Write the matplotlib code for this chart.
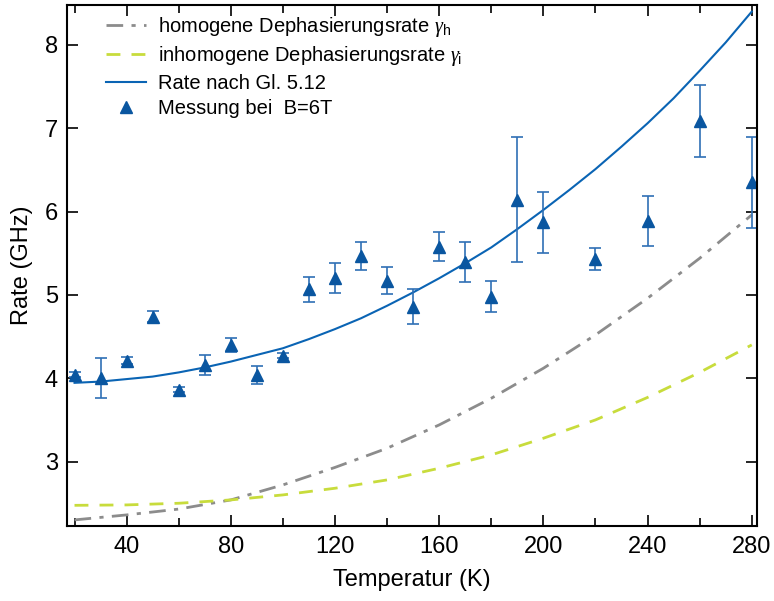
import numpy as np
import matplotlib.pyplot as plt

plt.rcParams['font.family'] = ['Liberation Sans', 'DejaVu Sans']
plt.rcParams['mathtext.fontset'] = 'custom'
plt.rcParams['mathtext.rm'] = 'Liberation Sans'
plt.rcParams['mathtext.it'] = 'Liberation Serif:italic'

# Messwerte (B = 6 T)
T_mess = [20, 30, 40, 50, 60, 70, 80, 90, 100, 110, 120, 130, 140, 150,
          160, 170, 180, 190, 200, 220, 240, 260, 280]
rate_mess = [4.04, 4.00, 4.21, 4.74, 3.86, 4.16, 4.40, 4.04, 4.27, 5.07, 5.20,
             5.47, 5.17, 4.86, 5.58, 5.39, 4.98, 6.14, 5.87, 5.43, 5.89, 7.09, 6.35]
rate_err = [0.03, 0.24, 0.04, 0.07, 0.03, 0.12, 0.08, 0.11, 0.03, 0.15, 0.18,
            0.17, 0.16, 0.21, 0.17, 0.24, 0.19, 0.75, 0.37, 0.13, 0.30, 0.43, 0.55]

# Kurven
T_fit = [20, 30, 40, 50, 60, 70, 80, 90, 100, 110, 120, 130, 140, 150, 160,
         170, 180, 190, 200, 210, 220, 230, 240, 250, 260, 270, 280]
rate_fit = [3.945, 3.96, 3.99, 4.02, 4.07, 4.13, 4.20, 4.28, 4.36, 4.47, 4.59,
            4.72, 4.87, 5.03, 5.20, 5.38, 5.57, 5.79, 6.02, 6.26, 6.51, 6.78,
            7.06, 7.36, 7.69, 8.03, 8.40]

T_gam = [20, 40, 60, 80, 100, 120, 140, 160, 180, 200, 220, 240, 260, 280]
gamma_h = [2.30, 2.36, 2.43, 2.54, 2.72, 2.93, 3.16, 3.44, 3.76, 4.12, 4.52,
           4.96, 5.44, 5.96]
gamma_i = [2.475, 2.48, 2.50, 2.54, 2.60, 2.68, 2.78, 2.92, 3.08, 3.28, 3.50,
           3.77, 4.07, 4.40]

fig = plt.figure(figsize=(7.74, 6.01), dpi=100)
ax = fig.add_axes([0.0872, 0.1248, 0.8908, 0.867])

ax.plot(T_gam, gamma_h, color='#8c8c8c', lw=2, dashes=(6, 3, 1.5, 3),
        label=r'homogene Dephasierungsrate $\mathit{\gamma}_{\mathrm{h}}$')
ax.plot(T_gam, gamma_i, color='#c8dc3c', lw=2, dashes=(5, 4),
        label=r'inhomogene Dephasierungsrate $\mathit{\gamma}_{\mathrm{i}}$')
ax.plot(T_fit, rate_fit, color='#0a64b4', lw=1.5, label='Rate nach Gl. 5.12')
ax.errorbar(T_mess, rate_mess, yerr=rate_err, fmt='none', ecolor='#2f6fb5',
            elinewidth=1.2, capsize=4.5, capthick=1.2)
ax.plot(T_mess, rate_mess, '^', color='#0a56a0', ms=9, label='Messung bei  B=6T')

ax.set_xlim(17.3, 282)
ax.set_ylim(2.227, 8.48)
ax.set_xticks([40, 80, 120, 160, 200, 240, 280])
ax.set_xticks(np.arange(20, 281, 20), minor=True)
ax.set_yticks([3, 4, 5, 6, 7, 8])
ax.tick_params(which='both', direction='in', top=True, right=True, labelsize=17, width=1.2)
ax.tick_params(which='major', length=8, pad=7)
ax.tick_params(which='minor', length=5.5)
for s in ax.spines.values():
    s.set_linewidth(1.5)

ax.set_xlabel('Temperatur (K)', fontsize=17, labelpad=8)
ax.set_ylabel('Rate (GHz)', fontsize=17, labelpad=8)

ax.legend(loc='upper left', bbox_to_anchor=(0.035, 1.008), frameon=False, fontsize=14.5,
          handlelength=2.0, handletextpad=0.6, labelspacing=0.28, borderaxespad=0.3)

fig.savefig('out.png', dpi=100)
